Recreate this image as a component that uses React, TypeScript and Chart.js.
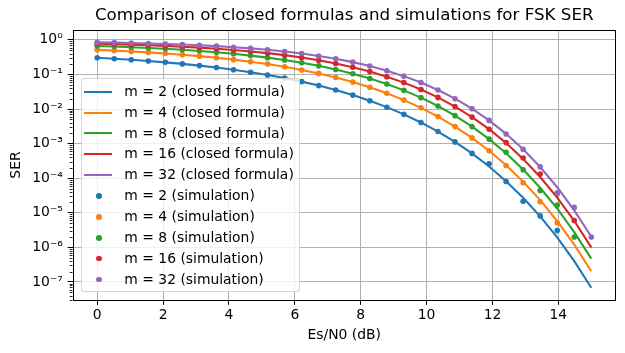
import React, { useEffect, useRef } from 'react';
import { Chart, registerables } from 'chart.js';

Chart.register(...registerables);

const FONT = "'DejaVu Sans', sans-serif";
const TITLE = 'Comparison of closed formulas and simulations for FSK SER';
const X_LABEL = 'Es/N0 (dB)';
const Y_LABEL = 'SER';

const M_VALUES = [2, 4, 8, 16, 32];
const COLORS = ['#1f77b4', '#ff7f0e', '#2ca02c', '#d62728', '#9467bd'];

// Es/N0 grid (dB), 30 points from 0 to 15
const ES_N0_DB = [
  0, 0.517, 1.034, 1.552, 2.069, 2.586, 3.103, 3.621, 4.138, 4.655,
  5.172, 5.69, 6.207, 6.724, 7.241, 7.759, 8.276, 8.793, 9.31, 9.828,
  10.345, 10.862, 11.379, 11.897, 12.414, 12.931, 13.448, 13.966, 14.483, 15,
];

// closed-formula curves
const SER_FORMULA_M2 = [
  0.30327, 0.28468, 0.26511, 0.24466, 0.22351, 0.20187, 0.17999, 0.15817, 0.13675, 0.11606,
  0.09649, 0.07836, 0.06199, 0.0476, 0.035353, 0.025288, 0.017337, 0.011332, 0.007019, 0.004092,
  0.0022282, 0.0011236, 5.1957e-4, 2.1791e-4, 8.189e-5, 2.7189e-5, 7.852e-6, 1.938e-6, 4.0076e-7, 6.7946e-8,
];
const SER_FORMULA_M4 = [
  0.51447, 0.48954, 0.46269, 0.43396, 0.40346, 0.37134, 0.3379, 0.30345, 0.26846, 0.23349,
  0.19915, 0.16609, 0.13505, 0.10668, 0.081521, 0.060003, 0.042318, 0.028435, 0.018086, 0.010812,
  0.0060258, 0.0031031, 0.0014618, 6.2298e-4, 2.3723e-4, 7.9607e-5, 2.3178e-5, 5.755e-6, 1.195e-6, 2.0315e-7,
];
const SER_FORMULA_M8 = [
  0.66567, 0.64059, 0.61314, 0.58315, 0.55052, 0.51518, 0.47727, 0.43695, 0.39459, 0.35075,
  0.3062, 0.26182, 0.21848, 0.17726, 0.13924, 0.10544, 0.076559, 0.052957, 0.034661, 0.021304,
  0.012192, 0.0064366, 0.0031031, 0.0013507, 5.2407e-4, 1.7873e-4, 5.273e-5, 1.3194e-5, 2.76e-6, 4.7117e-7,
];
const SER_FORMULA_M16 = [
  0.77345, 0.75123, 0.72658, 0.69912, 0.66854, 0.63453, 0.59698, 0.55578, 0.51108, 0.46327,
  0.41308, 0.36139, 0.30897, 0.25715, 0.20744, 0.16156, 0.12081, 0.086101, 0.058071, 0.036776,
  0.02168, 0.011782, 0.0058394, 0.0026082, 0.0010362, 3.6087e-4, 1.0839e-4, 2.7569e-5, 5.8238e-6, 9.987e-7,
];
const SER_FORMULA_M32 = [
  0.84896, 0.83072, 0.81024, 0.78703, 0.7606, 0.73045, 0.69624, 0.65758, 0.61432, 0.56656,
  0.51486, 0.45993, 0.40213, 0.34281, 0.28367, 0.22707, 0.17481, 0.1284, 0.089315, 0.058363,
  0.035532, 0.019943, 0.010199, 0.0046945, 0.0019182, 6.8538e-4, 2.1057e-4, 5.4602e-5, 1.1705e-5, 2.0279e-6,
];

// simulated points (null = no errors counted, nothing plotted)
const SER_SIM_M2 = [
  0.303, 0.285, 0.265, 0.245, 0.224, 0.202, 0.18, 0.158, 0.137, 0.116,
  0.0965, 0.0784, 0.062, 0.0476, 0.0354, 0.0253, 0.0173, 0.0113, 0.00702, 0.00409,
  0.00223, 0.00112, 5.2e-4, 2.6e-4, 8.0e-5, 2.15e-5, 8.1e-6, 3.05e-6, null, null,
];
const SER_SIM_M4 = [
  0.514, 0.49, 0.463, 0.434, 0.403, 0.371, 0.338, 0.303, 0.268, 0.233,
  0.199, 0.166, 0.135, 0.107, 0.0815, 0.06, 0.0423, 0.0284, 0.0181, 0.0108,
  0.00603, 0.0031, 0.00146, 6.2e-4, 2.33e-4, 7.4e-5, 2.08e-5, 5.1e-6, null, null,
];
const SER_SIM_M8 = [
  0.666, 0.641, 0.613, 0.583, 0.551, 0.515, 0.477, 0.437, 0.395, 0.351,
  0.306, 0.262, 0.218, 0.177, 0.139, 0.105, 0.0766, 0.053, 0.0347, 0.0213,
  0.0122, 0.00644, 0.0031, 0.00135, 5.6e-4, 1.76e-4, 4.4e-5, 1.68e-5, 2.0e-6, null,
];
const SER_SIM_M16 = [
  0.773, 0.751, 0.727, 0.699, 0.669, 0.635, 0.597, 0.556, 0.511, 0.463,
  0.413, 0.361, 0.309, 0.257, 0.207, 0.162, 0.121, 0.0861, 0.0581, 0.0368,
  0.0217, 0.0118, 0.00584, 0.00261, 0.00107, 3.85e-4, 1.32e-4, 3.6e-5, 6.0e-6, null,
];
const SER_SIM_M32 = [
  0.849, 0.831, 0.81, 0.787, 0.761, 0.73, 0.696, 0.658, 0.614, 0.567,
  0.515, 0.46, 0.402, 0.343, 0.284, 0.227, 0.175, 0.128, 0.0893, 0.0584,
  0.0355, 0.0199, 0.0102, 0.00469, 0.0019, 6.8e-4, 2.12e-4, 3.75e-5, 1.43e-5, 2.0e-6,
];

const X_TICKS = [0, 2, 4, 6, 8, 10, 12, 14];
const X_TICK_LABELS = ['0', '2', '4', '6', '8', '10', '12', '14'];
const Y_TICKS = [1e-7, 1e-6, 1e-5, 1e-4, 1e-3, 1e-2, 1e-1, 1];
const Y_TICK_LABELS = ['10⁻⁷', '10⁻⁶', '10⁻⁵', '10⁻⁴', '10⁻³', '10⁻²', '10⁻¹', '10⁰'];
const X_MIN = -0.75;
const X_MAX = 15.75;
const Y_MIN = 3.0e-8;
const Y_MAX = 1.923;

const FORMULA_SERIES = [SER_FORMULA_M2, SER_FORMULA_M4, SER_FORMULA_M8, SER_FORMULA_M16, SER_FORMULA_M32];
const SIM_SERIES = [SER_SIM_M2, SER_SIM_M4, SER_SIM_M8, SER_SIM_M16, SER_SIM_M32];

const LEGEND_ITEMS = [
  ...M_VALUES.map((m, i) => ({ label: `m = ${m} (closed formula)`, color: COLORS[i], kind: 'line' })),
  ...M_VALUES.map((m, i) => ({ label: `m = ${m} (simulation)`, color: COLORS[i], kind: 'dot' })),
];

const framePlugin = {
  id: 'frameAndMinorTicks',
  afterDatasetsDraw(chart: any) {
    const { ctx, chartArea } = chart;
    const { left, right, top, bottom } = chartArea;
    const ys = chart.scales.y;
    ctx.save();
    ctx.strokeStyle = '#000';
    ctx.lineWidth = 0.85;
    for (let e = -9; e <= 1; e++) {
      for (let m = 2; m <= 9; m++) {
        const v = m * Math.pow(10, e);
        if (v < ys.min || v > ys.max) continue;
        const py = Math.round(ys.getPixelForValue(v)) + 0.5;
        ctx.beginPath();
        ctx.moveTo(left, py);
        ctx.lineTo(left - 2.8, py);
        ctx.stroke();
      }
    }
    ctx.lineWidth = 1;
    const l = Math.round(left) + 0.5;
    const r = Math.round(right) - 0.5;
    const t = Math.round(top) + 0.5;
    const b = Math.round(bottom) + 0.5;
    ctx.strokeRect(l, t, r - l, b - t);
    ctx.restore();
  },
};

export default function App() {
  const canvasRef = useRef<HTMLCanvasElement>(null);

  useEffect(() => {
    const canvas = canvasRef.current;
    if (!canvas) return;
    Chart.defaults.font.family = FONT;
    Chart.defaults.color = '#000';

    const datasets: any[] = [
      ...M_VALUES.map((m, i) => ({
        label: `m = ${m} (closed formula)`,
        data: ES_N0_DB.map((x, k) => ({ x, y: FORMULA_SERIES[i][k] })),
        borderColor: COLORS[i],
        backgroundColor: COLORS[i],
        borderWidth: 2.08,
        pointRadius: 0,
        pointHoverRadius: 0,
        fill: false,
        tension: 0,
        order: 10 - i,
      })),
      ...M_VALUES.map((m, i) => ({
        label: `m = ${m} (simulation)`,
        data: ES_N0_DB.map((x, k) => ({ x, y: SIM_SERIES[i][k] })),
        showLine: false,
        borderColor: COLORS[i],
        backgroundColor: COLORS[i],
        pointBackgroundColor: COLORS[i],
        pointBorderWidth: 0,
        pointRadius: 2.8,
        pointHoverRadius: 2.8,
        order: 5 - i,
      })),
    ];

    const gridCfg = {
      color: '#b0b0b0',
      lineWidth: 1,
      tickColor: '#000',
      tickLength: 4.86,
      tickWidth: 1,
      drawTicks: true,
    };

    const chart = new Chart(canvas, {
      type: 'line',
      data: { datasets },
      plugins: [framePlugin],
      options: {
        responsive: false,
        devicePixelRatio: 1,
        animation: false,
        events: [],
        layout: { padding: { left: 0, right: 9, top: 0, bottom: 0 } },
        plugins: {
          legend: { display: false },
          tooltip: { enabled: false },
          title: {
            display: true,
            fullSize: false,
            align: 'center',
            text: TITLE,
            color: '#000',
            font: { size: 16.7, weight: 'normal', family: FONT },
            padding: { top: 6, bottom: 4 },
          },
        },
        scales: {
          x: {
            type: 'linear',
            min: X_MIN,
            max: X_MAX,
            afterBuildTicks: (scale: any) => {
              scale.ticks = X_TICKS.map((v) => ({ value: v }));
            },
            afterFit: (scale: any) => {
              scale.height = 53;
            },
            ticks: {
              autoSkip: false,
              maxRotation: 0,
              padding: 2.66,
              color: '#000',
              font: { size: 13.9, family: FONT },
              callback: (_v: any, i: number) => X_TICK_LABELS[i],
            },
            grid: gridCfg,
            border: { display: false },
            title: {
              display: true,
              text: X_LABEL,
              color: '#000',
              font: { size: 13.9, family: FONT },
              padding: { top: 0, bottom: 9.66 },
            },
          },
          y: {
            type: 'logarithmic',
            min: Y_MIN,
            max: Y_MAX,
            afterBuildTicks: (scale: any) => {
              scale.ticks = Y_TICKS.map((v) => ({ value: v }));
            },
            afterFit: (scale: any) => {
              scale.width = 72.5;
            },
            ticks: {
              autoSkip: false,
              padding: 4.86,
              color: '#000',
              font: { size: 13.9, family: FONT },
              callback: (_v: any, i: number) => Y_TICK_LABELS[i],
            },
            grid: gridCfg,
            border: { display: false },
            title: {
              display: true,
              text: Y_LABEL,
              color: '#000',
              font: { size: 13.9, family: FONT },
              padding: { top: 8.2, bottom: 0 },
            },
          },
        },
      } as any,
    });
    return () => chart.destroy();
  }, []);

  const boxLeft = 80.5;
  const boxTop = 78.3;
  const inner = { x: boxLeft + 1, y: boxTop + 1 };

  return (
    <div style={{ position: 'fixed', left: 0, top: 0, width: 625, height: 353, background: '#fff', overflow: 'hidden' }}>
      <canvas
        ref={canvasRef}
        width={625}
        height={353}
        style={{ position: 'absolute', left: 0, top: 0, width: 625, height: 353 }}
      />
      <div
        style={{
          position: 'absolute',
          left: boxLeft,
          top: boxTop,
          width: 219,
          height: 214.2,
          boxSizing: 'border-box',
          border: '1px solid rgba(204,204,204,0.8)',
          borderRadius: 3,
          background: 'rgba(255,255,255,0.8)',
        }}
      >
        {LEGEND_ITEMS.map((item, i) => {
          const cy = 91.7 + i * 20.87 - inner.y;
          return (
            <React.Fragment key={item.label}>
              {item.kind === 'line' ? (
                <div
                  style={{
                    position: 'absolute',
                    left: 84 - inner.x,
                    top: cy - 1.04,
                    width: 28,
                    height: 2.08,
                    background: item.color,
                  }}
                />
              ) : (
                <div
                  style={{
                    position: 'absolute',
                    left: 99 - inner.x - 2.8,
                    top: cy - 2.8,
                    width: 5.6,
                    height: 5.6,
                    borderRadius: '50%',
                    background: item.color,
                  }}
                />
              )}
              <div
                style={{
                  position: 'absolute',
                  left: 124.3 - inner.x,
                  top: cy - 8.81,
                  lineHeight: '16px',
                  fontFamily: FONT,
                  fontSize: 13.9,
                  color: '#000',
                  whiteSpace: 'nowrap',
                }}
              >
                {item.label}
              </div>
            </React.Fragment>
          );
        })}
      </div>
    </div>
  );
}
